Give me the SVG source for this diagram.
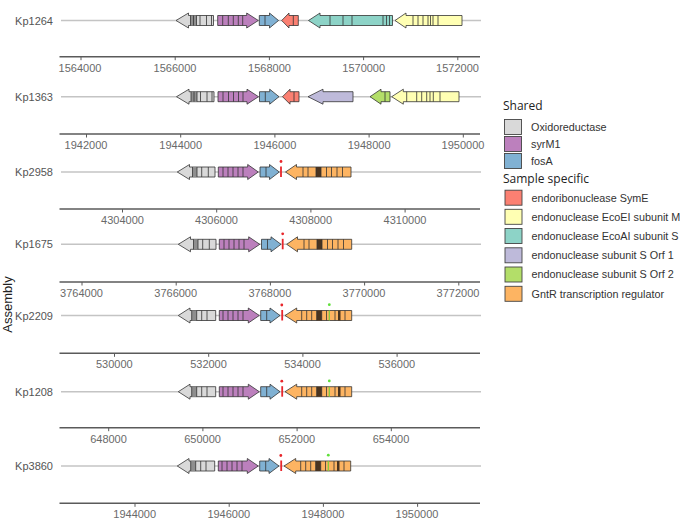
<svg xmlns="http://www.w3.org/2000/svg" width="685" height="519" viewBox="0 0 685 519">
<style>
.bg{fill:#ffffff}
.track{stroke:#c4c4c4;stroke-width:1.5}
.axis{stroke:#5a5a5a;stroke-width:1.5;fill:none}
.tick{stroke:#5a5a5a;stroke-width:1}
.tl{font-family:"Liberation Sans",Arial,sans-serif;font-size:11px;fill:#6a6a6a;text-anchor:middle}
.rl{font-family:"Liberation Sans",Arial,sans-serif;font-size:11px;fill:#555555;text-anchor:end}
.gene{stroke:#333333;stroke-width:0.8;stroke-linejoin:miter}
.v{stroke:#333333;stroke-width:0.8}
.gray{fill:#D9D9D9}.purple{fill:#BC80BD}.blue{fill:#80B1D3}.red{fill:#FB8072}
.yellow{fill:#FFFFB3}.teal{fill:#8DD3C7}.lav{fill:#BEBADA}.green{fill:#B3DE69}.orange{fill:#FDB462}
.gband{fill:#8e8e8e}
.oband{fill:#4a3420}
.redm{stroke:#e8262b;stroke-width:1.8}
.redd{fill:#e8262b}
.grnm{stroke:#7ccf3a;stroke-width:1.2}
.grnd{fill:#5fe03a}
.lh{font-family:"Open Sans","Noto Sans",sans-serif;font-size:12px;fill:#222222}
.lt{font-family:"Liberation Sans",Arial,sans-serif;font-size:10.8px;fill:#333333}
.key{stroke:#444444;stroke-width:0.9}
.ytitle{font-family:"Liberation Sans",Arial,sans-serif;font-size:13px;fill:#222222;text-anchor:middle}
</style>
<rect class="bg" x="0" y="0" width="685" height="519"/>

<!-- Row tracks -->
<g id="tracks">
<line class="track" x1="61" y1="20.5" x2="481" y2="20.5"/>
<line class="track" x1="61" y1="96.7" x2="481" y2="96.7"/>
<line class="track" x1="61" y1="172" x2="481" y2="172"/>
<line class="track" x1="61" y1="244.3" x2="481" y2="244.3"/>
<line class="track" x1="61" y1="315.5" x2="481" y2="315.5"/>
<line class="track" x1="61" y1="391.7" x2="481" y2="391.7"/>
<line class="track" x1="61" y1="466" x2="481" y2="466"/>
</g>

<!-- Row labels -->
<g id="row-labels">
<text class="rl" x="53" y="24.5">Kp1264</text>
<text class="rl" x="53" y="100.7">Kp1363</text>
<text class="rl" x="53" y="176">Kp2958</text>
<text class="rl" x="53" y="248.3">Kp1675</text>
<text class="rl" x="53" y="319.5">Kp2209</text>
<text class="rl" x="53" y="395.7">Kp1208</text>
<text class="rl" x="53" y="470">Kp3860</text>
</g>

<text class="ytitle" transform="translate(12,304.5) rotate(-90)">Assembly</text>

<!-- Axes -->
<g id="axis1">
<line class="axis" x1="59.5" y1="56.7" x2="480" y2="56.7"/>
<path class="tick" d="M81,56.7v3.5M175.2,56.7v3.5M269.4,56.7v3.5M363.6,56.7v3.5M457.8,56.7v3.5"/>
<text class="tl" x="80" y="72">1564000</text><text class="tl" x="175" y="72">1566000</text><text class="tl" x="269.5" y="72">1568000</text><text class="tl" x="363.7" y="72">1570000</text><text class="tl" x="457.5" y="72">1572000</text>
</g>
<g id="axis2">
<line class="axis" x1="59.5" y1="134" x2="480" y2="134"/>
<path class="tick" d="M86.5,134v3.5M180.7,134v3.5M274.9,134v3.5M369.1,134v3.5M463.3,134v3.5"/>
<text class="tl" x="86" y="149">1942000</text><text class="tl" x="180.7" y="149">1944000</text><text class="tl" x="274.9" y="149">1946000</text><text class="tl" x="369.1" y="149">1948000</text><text class="tl" x="463" y="149">1950000</text>
</g>
<g id="axis3">
<line class="axis" x1="59.5" y1="209" x2="480" y2="209"/>
<path class="tick" d="M122.5,209v3.5M216.7,209v3.5M310.9,209v3.5M405.1,209v3.5"/>
<text class="tl" x="122.5" y="224">4304000</text><text class="tl" x="216.5" y="224">4306000</text><text class="tl" x="310.7" y="224">4308000</text><text class="tl" x="405" y="224">4310000</text>
</g>
<g id="axis4">
<line class="axis" x1="59.5" y1="282" x2="480" y2="282"/>
<path class="tick" d="M82,282v3.5M176.2,282v3.5M270.4,282v3.5M364.6,282v3.5M458.8,282v3.5"/>
<text class="tl" x="81.5" y="297">3764000</text><text class="tl" x="175.7" y="297">3766000</text><text class="tl" x="269.9" y="297">3768000</text><text class="tl" x="364" y="297">3770000</text><text class="tl" x="458" y="297">3772000</text>
</g>
<g id="axis5">
<line class="axis" x1="59.5" y1="353.3" x2="480" y2="353.3"/>
<path class="tick" d="M114.5,353.3v3.5M208.7,353.3v3.5M302.9,353.3v3.5M397.1,353.3v3.5"/>
<text class="tl" x="114.3" y="368">530000</text><text class="tl" x="208.5" y="368">532000</text><text class="tl" x="302.5" y="368">534000</text><text class="tl" x="396.8" y="368">536000</text>
</g>
<g id="axis6">
<line class="axis" x1="59.5" y1="427.7" x2="480" y2="427.7"/>
<path class="tick" d="M108.7,427.7v3.5M202.9,427.7v3.5M297.1,427.7v3.5M391.3,427.7v3.5"/>
<text class="tl" x="108.5" y="443">648000</text><text class="tl" x="202.6" y="443">650000</text><text class="tl" x="296.8" y="443">652000</text><text class="tl" x="391" y="443">654000</text>
</g>
<g id="axis7">
<line class="axis" x1="59.5" y1="503.3" x2="480" y2="503.3"/>
<path class="tick" d="M135,503.3v3.5M229.2,503.3v3.5M323.4,503.3v3.5M417.6,503.3v3.5"/>
<text class="tl" x="134.7" y="518">1944000</text><text class="tl" x="228.8" y="518">1946000</text><text class="tl" x="323" y="518">1948000</text><text class="tl" x="417" y="518">1950000</text>
</g>

<!-- Kp1264 -->
<g id="row-Kp1264" transform="translate(0,20.5)">
<g id="Kp1264-oxidoreductase">
<polygon class="gene gray" points="176,0 188.5,-7.5 188.5,-5 213.5,-5 213.5,5 188.5,5 188.5,7.5"/>
<rect class="gband" x="190.5" y="-5" width="6" height="10"/>
<path class="v" d="M190.5,-5v10M193.5,-5v10M196.5,-5v10M200,-5v10M206.5,-5v10M211.5,-5v10"/>
</g>
<g id="Kp1264-syrM1">
<polygon class="gene purple" points="217.7,-5 246.7,-5 246.7,-7.5 258.3,0 246.7,7.5 246.7,5 217.7,5"/>
<path class="v" d="M222.7,-5v10M228.3,-5v10M233.3,-5v10M238.3,-5v10M242.7,-5v10"/>
</g>
<g id="Kp1264-fosA">
<polygon class="gene blue" points="259.3,-5 269.5,-5 269.5,-7.5 278.5,0 269.5,7.5 269.5,5 259.3,5"/>
<path class="v" d="M265,-5v10"/>
</g>
<g id="Kp1264-symE">
<polygon class="gene red" points="281.7,0 289,-7.5 289,-5 298.3,-5 298.3,5 289,5 289,7.5"/>
<path class="v" d="M293.3,-5v10"/>
</g>
<g id="Kp1264-ecoAI">
<polygon class="gene teal" points="308.5,0 320,-7.5 320,-5 392.5,-5 392.5,5 320,5 320,7.5"/>
<path class="v" d="M330,-5v10M343,-5v10M352,-5v10M383,-5v10M386.5,-5v10M389.5,-5v10"/>
</g>
<g id="Kp1264-ecoEI">
<polygon class="gene yellow" points="395,0 406,-7.5 406,-5 462,-5 462,5 406,5 406,7.5"/>
<path class="v" d="M413,-5v10M418,-5v10M423,-5v10M428,-5v10M430.5,-5v10M433,-5v10M438,-5v10"/>
</g>
</g>

<!-- Kp1363 -->
<g id="row-Kp1363" transform="translate(0,96.7)">
<g id="Kp1363-oxidoreductase">
<polygon class="gene gray" points="176.5,0 189,-7.5 189,-5 214,-5 214,5 189,5 189,7.5"/>
<rect class="gband" x="191" y="-5" width="6" height="10"/>
<path class="v" d="M191,-5v10M194,-5v10M197,-5v10M200.5,-5v10M207,-5v10M212,-5v10"/>
</g>
<g id="Kp1363-syrM1">
<polygon class="gene purple" points="218,-5 247,-5 247,-7.5 258.5,0 247,7.5 247,5 218,5"/>
<path class="v" d="M223,-5v10M228.5,-5v10M233.5,-5v10M238.5,-5v10M243,-5v10"/>
</g>
<g id="Kp1363-fosA">
<polygon class="gene blue" points="259.5,-5 269.7,-5 269.7,-7.5 279,0 269.7,7.5 269.7,5 259.5,5"/>
<path class="v" d="M265.3,-5v10"/>
</g>
<g id="Kp1363-symE">
<polygon class="gene red" points="282.5,0 290,-7.5 290,-5 299,-5 299,5 290,5 290,7.5"/>
<path class="v" d="M294,-5v10"/>
</g>
<g id="Kp1363-orf1">
<polygon class="gene lav" points="308,0 323,-7.5 323,-5 353,-5 353,5 323,5 323,7.5"/>
</g>
<g id="Kp1363-orf2">
<polygon class="gene green" points="370,0 381,-7.5 381,-5 390,-5 390,5 381,5 381,7.5"/>
<path class="v" d="M385,-5v10"/>
</g>
<g id="Kp1363-ecoEI">
<polygon class="gene yellow" points="391.7,0 403.3,-7.5 403.3,-5 459,-5 459,5 403.3,5 403.3,7.5"/>
<path class="v" d="M406.7,-5v10M416.7,-5v10M421.7,-5v10M426.7,-5v10M430,-5v10M433.3,-5v10M440,-5v10"/>
</g>
</g>

<!-- Kp2958 -->
<g id="row-Kp2958" transform="translate(0,172)">
<g id="Kp2958-oxidoreductase">
<polygon class="gene gray" points="177.3,0 189.5,-7.5 189.5,-5 215,-5 215,5 189.5,5 189.5,7.5"/>
<rect class="gband" x="192.5" y="-5" width="4.5" height="10"/>
<path class="v" d="M192.5,-5v10M197,-5v10M201.7,-5v10M208.3,-5v10"/>
</g>
<g id="Kp2958-syrM1">
<polygon class="gene purple" points="218.3,-5 247.7,-5 247.7,-7.5 258.3,0 247.7,7.5 247.7,5 218.3,5"/>
<path class="v" d="M223,-5v10M228,-5v10M233,-5v10M238,-5v10M243,-5v10"/>
</g>
<g id="Kp2958-fosA">
<polygon class="gene blue" points="260,-5 269.5,-5 269.5,-7.5 279.3,0 269.5,7.5 269.5,5 260,5"/>
<path class="v" d="M266,-5v10"/>
</g>
<g id="Kp2958-variant">
<line class="redm" x1="281" y1="-5.5" x2="281" y2="5"/>
<circle class="redd" cx="281" cy="-10.5" r="1.4"/>
</g>
<g id="Kp2958-gntR">
<polygon class="gene orange" points="285.5,0 296.5,-7.5 296.5,-5 351,-5 351,5 296.5,5 296.5,7.5"/>
<rect class="oband" x="316" y="-5" width="5" height="10"/>
<path class="v" d="M303,-5v10M308,-5v10M316,-5v10M321,-5v10M326.5,-5v10M331.5,-5v10M337,-5v10M342.5,-5v10"/>
</g>
</g>

<!-- Kp1675 -->
<g id="row-Kp1675" transform="translate(1,244.3)">
<g id="Kp1675-oxidoreductase">
<polygon class="gene gray" points="177.3,0 189.5,-7.5 189.5,-5 215,-5 215,5 189.5,5 189.5,7.5"/>
<rect class="gband" x="192.5" y="-5" width="4.5" height="10"/>
<path class="v" d="M192.5,-5v10M197,-5v10M201.7,-5v10M208.3,-5v10"/>
</g>
<g id="Kp1675-syrM1">
<polygon class="gene purple" points="218.3,-5 247.7,-5 247.7,-7.5 258.8,0 247.7,7.5 247.7,5 218.3,5"/>
<path class="v" d="M223,-5v10M228,-5v10M233,-5v10M238,-5v10M243,-5v10"/>
</g>
<g id="Kp1675-fosA">
<polygon class="gene blue" points="260.5,-5 270,-5 270,-7.5 280,0 270,7.5 270,5 260.5,5"/>
<path class="v" d="M266.5,-5v10"/>
</g>
<g id="Kp1675-variant">
<line class="redm" x1="281.7" y1="-5.5" x2="281.7" y2="5"/>
<circle class="redd" cx="281.7" cy="-10.5" r="1.4"/>
</g>
<g id="Kp1675-gntR">
<polygon class="gene orange" points="285.7,0 296.5,-7.5 296.5,-5 350.7,-5 350.7,5 296.5,5 296.5,7.5"/>
<rect class="oband" x="316" y="-5" width="5" height="10"/>
<path class="v" d="M303,-5v10M308,-5v10M316,-5v10M321,-5v10M326.5,-5v10M331.5,-5v10M337,-5v10M342.5,-5v10"/>
</g>
</g>

<!-- Kp2209 -->
<g id="row-Kp2209" transform="translate(0,315.5)">
<g id="Kp2209-oxidoreductase">
<polygon class="gene gray" points="178.3,0 190,-7.5 190,-5 215.7,-5 215.7,5 190,5 190,7.5"/>
<rect class="gband" x="191.7" y="-5" width="5" height="10"/>
<path class="v" d="M191.7,-5v10M196.7,-5v10M201.7,-5v10M207,-5v10"/>
</g>
<g id="Kp2209-syrM1">
<polygon class="gene purple" points="219.3,-5 248.3,-5 248.3,-7.5 259.3,0 248.3,7.5 248.3,5 219.3,5"/>
<path class="v" d="M223,-5v10M228,-5v10M233,-5v10M238,-5v10M243,-5v10"/>
</g>
<g id="Kp2209-fosA">
<polygon class="gene blue" points="260.7,-5 270,-5 270,-7.5 280,0 270,7.5 270,5 260.7,5"/>
<path class="v" d="M266.7,-5v10"/>
</g>
<g id="Kp2209-variant">
<line class="redm" x1="282.2" y1="-5.5" x2="282.2" y2="5"/>
<circle class="redd" cx="281.8" cy="-10.5" r="1.4"/>
</g>
<g id="Kp2209-gntR">
<polygon class="gene orange" points="285,0 296.7,-7.5 296.7,-5 351.7,-5 351.7,5 296.7,5 296.7,7.5"/>
<rect class="oband" x="316.7" y="-5" width="5" height="10"/>
<rect class="oband" x="338" y="-5" width="2.5" height="10"/>
<path class="v" d="M301.7,-5v10M306.7,-5v10M311.7,-5v10M316.7,-5v10M321.7,-5v10M326.5,-5v10M335,-5v10M345,-5v10"/>
<line class="grnm" x1="329.3" y1="-5" x2="329.3" y2="5"/>
<circle class="grnd" cx="329.3" cy="-10.8" r="1.4"/>
</g>
</g>

<!-- Kp1208 -->
<g id="row-Kp1208" transform="translate(0,391.7)">
<g id="Kp1208-oxidoreductase">
<polygon class="gene gray" points="178.3,0 190,-7.5 190,-5 215.7,-5 215.7,5 190,5 190,7.5"/>
<rect class="gband" x="191.7" y="-5" width="5" height="10"/>
<path class="v" d="M191.7,-5v10M196.7,-5v10M201.7,-5v10M207,-5v10"/>
</g>
<g id="Kp1208-syrM1">
<polygon class="gene purple" points="219.3,-5 248.3,-5 248.3,-7.5 259.3,0 248.3,7.5 248.3,5 219.3,5"/>
<path class="v" d="M223,-5v10M228,-5v10M233,-5v10M238,-5v10M243,-5v10"/>
</g>
<g id="Kp1208-fosA">
<polygon class="gene blue" points="260.7,-5 270,-5 270,-7.5 280,0 270,7.5 270,5 260.7,5"/>
<path class="v" d="M266.7,-5v10"/>
</g>
<g id="Kp1208-variant">
<line class="redm" x1="282.2" y1="-5.5" x2="282.2" y2="5"/>
<circle class="redd" cx="281.8" cy="-10.5" r="1.4"/>
</g>
<g id="Kp1208-gntR">
<polygon class="gene orange" points="285,0 296.7,-7.5 296.7,-5 351.7,-5 351.7,5 296.7,5 296.7,7.5"/>
<rect class="oband" x="316.7" y="-5" width="5" height="10"/>
<rect class="oband" x="338" y="-5" width="2.5" height="10"/>
<path class="v" d="M301.7,-5v10M306.7,-5v10M311.7,-5v10M316.7,-5v10M321.7,-5v10M326.5,-5v10M335,-5v10M345,-5v10"/>
<line class="grnm" x1="329.3" y1="-5" x2="329.3" y2="5"/>
<circle class="grnd" cx="329.3" cy="-10.8" r="1.4"/>
</g>
</g>

<!-- Kp3860 -->
<g id="row-Kp3860" transform="translate(-1,466)">
<g id="Kp3860-oxidoreductase">
<polygon class="gene gray" points="178.3,0 190,-7.5 190,-5 215.7,-5 215.7,5 190,5 190,7.5"/>
<rect class="gband" x="191.7" y="-5" width="5" height="10"/>
<path class="v" d="M191.7,-5v10M196.7,-5v10M201.7,-5v10M207,-5v10"/>
</g>
<g id="Kp3860-syrM1">
<polygon class="gene purple" points="219.3,-5 248.3,-5 248.3,-7.5 259.3,0 248.3,7.5 248.3,5 219.3,5"/>
<path class="v" d="M223,-5v10M228,-5v10M233,-5v10M238,-5v10M243,-5v10"/>
</g>
<g id="Kp3860-fosA">
<polygon class="gene blue" points="260.7,-5 270,-5 270,-7.5 280,0 270,7.5 270,5 260.7,5"/>
<path class="v" d="M266.7,-5v10"/>
</g>
<g id="Kp3860-variant">
<line class="redm" x1="282.2" y1="-5.5" x2="282.2" y2="5"/>
<circle class="redd" cx="281.8" cy="-10.5" r="1.4"/>
</g>
<g id="Kp3860-gntR">
<polygon class="gene orange" points="285,0 296.7,-7.5 296.7,-5 351.7,-5 351.7,5 296.7,5 296.7,7.5"/>
<rect class="oband" x="316.7" y="-5" width="5" height="10"/>
<rect class="oband" x="338" y="-5" width="2.5" height="10"/>
<path class="v" d="M301.7,-5v10M306.7,-5v10M311.7,-5v10M316.7,-5v10M321.7,-5v10M326.5,-5v10M335,-5v10M345,-5v10"/>
<line class="grnm" x1="329.3" y1="-5" x2="329.3" y2="5"/>
<circle class="grnd" cx="329.3" cy="-10.8" r="1.4"/>
</g>
</g>

<!-- Legend -->
<g id="legend">
<text class="lh" x="503" y="110">Shared</text>
<g id="key-oxidoreductase"><rect class="key gray" x="504.5" y="119.5" width="17" height="15"/><text class="lt" x="531" y="131">Oxidoreductase</text></g>
<g id="key-syrM1"><rect class="key purple" x="504.5" y="136.5" width="17" height="15"/><text class="lt" x="531" y="148">syrM1</text></g>
<g id="key-fosA"><rect class="key blue" x="504.5" y="153.5" width="17" height="15"/><text class="lt" x="531" y="165">fosA</text></g>
<text class="lh" x="503" y="183">Sample specific</text>
<g id="key-symE"><rect class="key red" x="505" y="190.2" width="17" height="15"/><text class="lt" x="531.5" y="201.5">endoribonuclease SymE</text></g>
<g id="key-ecoEI"><rect class="key yellow" x="505" y="209.3" width="17" height="15"/><text class="lt" x="531.5" y="220.6">endonuclease EcoEI subunit M</text></g>
<g id="key-ecoAI"><rect class="key teal" x="505" y="228.5" width="17" height="15"/><text class="lt" x="531.5" y="239.8">endonuclease EcoAI subunit S</text></g>
<g id="key-orf1"><rect class="key lav" x="505" y="247.8" width="17" height="15"/><text class="lt" x="531.5" y="259.1">endonuclease subunit S Orf 1</text></g>
<g id="key-orf2"><rect class="key green" x="505" y="267" width="17" height="15"/><text class="lt" x="531.5" y="278.3">endonuclease subunit S Orf 2</text></g>
<g id="key-gntR"><rect class="key orange" x="505" y="286.3" width="17" height="15"/><text class="lt" x="531.5" y="297.8">GntR transcription regulator</text></g>
</g>
</svg>
